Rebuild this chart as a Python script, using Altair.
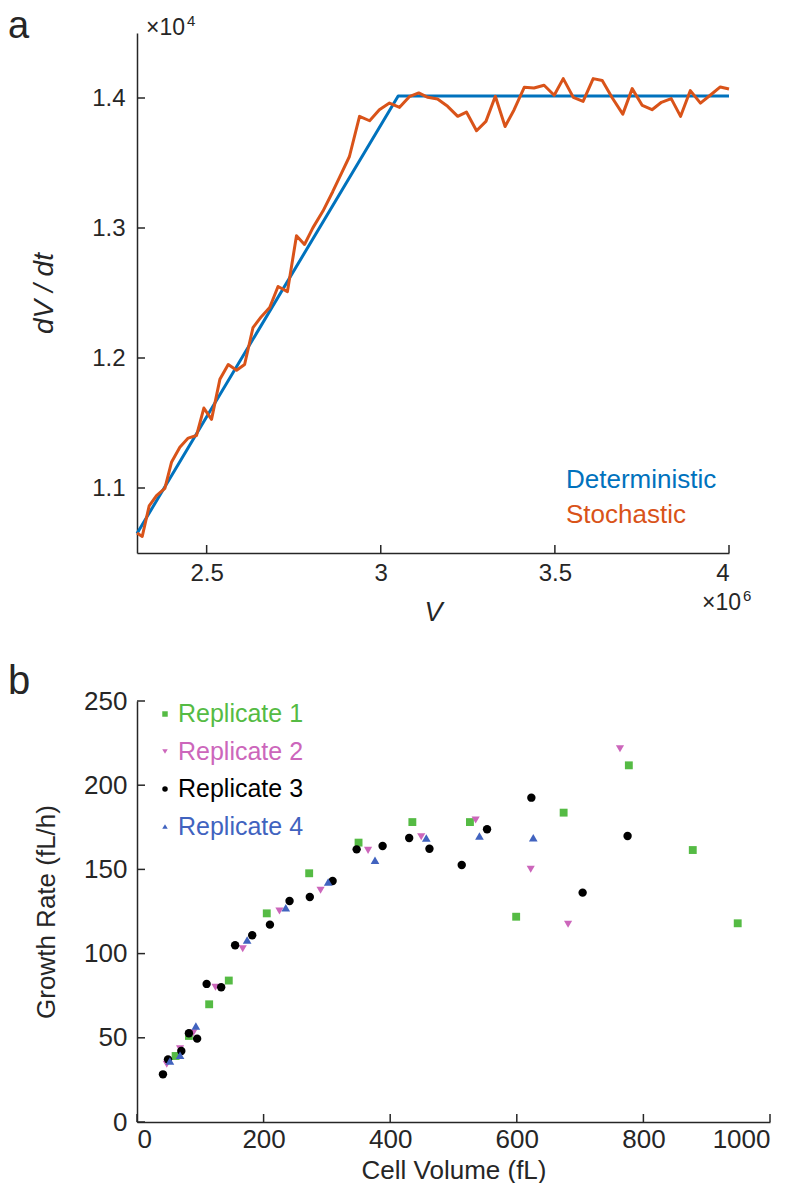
import altair as alt
import pandas as pd

FONT = "Liberation Sans"
INK = "#262626"

# ---------------- panel a data ----------------
det_V = [2.3, 3.05, 4.0]
det_rate = [1.065, 1.4015, 1.4015]

sto_V = [2.300, 2.315, 2.335, 2.356, 2.380, 2.399, 2.423, 2.447, 2.471, 2.492,
         2.514, 2.538, 2.562, 2.586, 2.609, 2.633, 2.657, 2.681, 2.705, 2.732,
         2.758, 2.781, 2.805, 2.834, 2.862, 2.887, 2.910, 2.939, 2.968, 2.996,
         3.025, 3.054, 3.082, 3.109, 3.135, 3.163, 3.192, 3.221, 3.246, 3.275,
         3.302, 3.329, 3.357, 3.383, 3.412, 3.440, 3.469, 3.498, 3.524, 3.553,
         3.581, 3.610, 3.636, 3.665, 3.695, 3.722, 3.751, 3.779, 3.806, 3.834,
         3.861, 3.889, 3.918, 3.946, 3.975, 4.000]
sto_rate = [1.0653, 1.0627, 1.0863, 1.0941, 1.0998, 1.1198, 1.1314, 1.1384, 1.1404, 1.1615,
            1.1528, 1.1836, 1.1950, 1.1906, 1.1950, 1.2233, 1.2318, 1.2388, 1.2550, 1.2511,
            1.2940, 1.2873, 1.3001, 1.3130, 1.3279, 1.3421, 1.3550, 1.3859, 1.3825, 1.3910,
            1.3961, 1.3928, 1.4010, 1.4039, 1.4005, 1.3992, 1.3936, 1.3859, 1.3892, 1.3748,
            1.3820, 1.4013, 1.3781, 1.3910, 1.4082, 1.4077, 1.4098, 1.4021, 1.4149, 1.4005,
            1.3974, 1.4149, 1.4134, 1.4000, 1.3876, 1.4072, 1.3943, 1.3910, 1.3967, 1.3995,
            1.3859, 1.4057, 1.3961, 1.4021, 1.4085, 1.4069]

series_names = ["Deterministic", "Stochastic"]
series_colors = ["#0072BD", "#D95319"]
a_xticks = [2.5, 3.0, 3.5, 4.0]
a_yticks = [1.1, 1.2, 1.3, 1.4]

# ---------------- panel b data ----------------
rep_names = ["Replicate 1", "Replicate 2", "Replicate 3", "Replicate 4"]
rep_colors = ["#55BB44", "#CC66BB", "#000000", "#4163BF"]
rep_shapes = ["square", "triangle-down", "circle", "triangle-up"]
rep_sizes = [62, 75, 58, 75]

rep1_vol = [61, 82, 114, 145, 205, 272, 350, 435, 526, 599, 674, 777, 878, 949]
rep1_gr = [39.2, 51.1, 69.9, 84, 123.9, 147.7, 165.9, 178.1, 178.1, 121.9, 183.7, 211.8, 161.5, 118.0]

rep2_vol = [47, 68, 89, 124, 167, 225, 290, 365, 449, 535, 622, 681, 763]
rep2_gr = [34.3, 43.5, 53.0, 80, 102.9, 125.3, 137.6, 161.3, 169.4, 179.3, 150.1, 117.4, 221.7]

rep3_vol = [41, 49, 70, 82, 95, 110, 133, 155, 182, 210, 241, 273, 309, 347, 388,
            430, 462, 513, 553, 623, 704, 775]
rep3_gr = [28.3, 37.2, 42.2, 52.7, 49.5, 82, 80, 105, 110.9, 117.2, 131.2, 133.6, 143.1,
           161.9, 163.9, 168.6, 162.3, 152.6, 173.8, 192.6, 136.2, 169.8]

rep4_vol = [52, 68, 93, 174, 235, 302, 376, 457, 541, 626]
rep4_gr = [36.2, 39.6, 57.0, 108.1, 127.3, 142.5, 155.4, 168.6, 169.8, 168.8]

b_xticks = [0, 200, 400, 600, 800, 1000]
b_yticks = [0, 50, 100, 150, 200, 250]

# ---------------- layout ----------------
WA, HA = 592, 520
WB, HB = 633, 421
TICK = 8
LEFT = -129


def main_axis(values, fmt, size, tsize, title, lpad, tpad, italic):
    return alt.Axis(values=values, format=fmt, ticks=False, tickSize=0, grid=False,
                    domainColor=INK, domainWidth=1.5, labelFont=FONT, labelFontSize=size,
                    labelColor=INK, labelPadding=lpad, title=title, titleFont=FONT,
                    titleFontSize=tsize, titleFontWeight="normal",
                    titleFontStyle="italic" if italic else "normal", titleColor=INK,
                    titlePadding=tpad)


def inner_ticks(values, field, scale, axis, horizontal, h):
    """Inward-pointing tick marks placed through the panel's own scale."""
    base = alt.Chart(pd.DataFrame({field: values})).mark_rule(color=INK, strokeWidth=1.5)
    if horizontal:
        return base.encode(y=alt.Y(f"{field}:Q", scale=scale, axis=axis),
                           x=alt.value(0), x2=alt.value(TICK))
    return base.encode(x=alt.X(f"{field}:Q", scale=scale, axis=axis),
                       y=alt.value(h - TICK), y2=alt.value(h))


def txt(s, x, y, size, **kw):
    return alt.Chart(pd.DataFrame({"t": [s]})).mark_text(
        font=FONT, fontSize=size, color=INK, align="left", baseline="alphabetic", **kw
    ).encode(x=alt.value(x), y=alt.value(y), text="t:N")


# ---------------- panel a ----------------
df_det = pd.DataFrame({"V": det_V, "rate": det_rate, "series": series_names[0]})
df_sto = pd.DataFrame({"V": sto_V, "rate": sto_rate, "series": series_names[1]})
df_aleg = pd.DataFrame({"series": series_names, "i": [0, 1]})

xa = alt.Scale(domain=[2.3, 4.0], nice=False, zero=False)
ya = alt.Scale(domain=[1.05, 1.45], nice=False, zero=False)
ca = alt.Scale(domain=series_names, range=series_colors)
ax_xa = main_axis(a_xticks, "~g", 24, 27, "V", 8, 14, True)
ax_ya = main_axis(a_yticks, ".1f", 24, 28, "dV / dt", 12, 33, True)

det = alt.Chart(df_det).mark_line(strokeWidth=3, strokeJoin="round").encode(
    x=alt.X("V:Q", scale=xa, axis=ax_xa),
    y=alt.Y("rate:Q", scale=ya, axis=ax_ya),
    color=alt.Color("series:N", scale=ca, legend=None),
)
sto = alt.Chart(df_sto).mark_line(strokeWidth=3, strokeJoin="round").encode(
    x=alt.X("V:Q", scale=xa, axis=ax_xa),
    y=alt.Y("rate:Q", scale=ya, axis=ax_ya),
    color=alt.Color("series:N", scale=ca, legend=None),
)
aleg = alt.Chart(df_aleg).transform_calculate(py="447 + 35 * datum.i").mark_text(
    font=FONT, fontSize=26, align="left", baseline="middle"
).encode(
    x=alt.value(429), y=alt.Y("py:Q", scale=None),
    text="series:N", color=alt.Color("series:N", scale=ca, legend=None),
)

panel_a = alt.layer(
    det, sto,
    inner_ticks(a_xticks, "V", xa, ax_xa, False, HA),
    inner_ticks(a_yticks, "rate", ya, ax_ya, True, HA),
    aleg,
    txt("a", LEFT, 5, 38),
    txt("×10", 9, 2, 23),
    txt("4", 50, -7, 15),
    txt("×10", 565, HA + 57, 23),
    txt("6", 606, HA + 48, 15),
).properties(width=WA, height=HA)

# ---------------- panel b ----------------
df_b = pd.concat([
    pd.DataFrame({"vol": rep1_vol, "gr": rep1_gr, "rep": rep_names[0]}),
    pd.DataFrame({"vol": rep2_vol, "gr": rep2_gr, "rep": rep_names[1]}),
    pd.DataFrame({"vol": rep3_vol, "gr": rep3_gr, "rep": rep_names[2]}),
    pd.DataFrame({"vol": rep4_vol, "gr": rep4_gr, "rep": rep_names[3]}),
], ignore_index=True)
df_bleg = pd.DataFrame({"rep": rep_names, "i": [0, 1, 2, 3]})

xb = alt.Scale(domain=[0, 1000], nice=False, zero=False)
yb = alt.Scale(domain=[0, 250], nice=False, zero=False)
cb = alt.Scale(domain=rep_names, range=rep_colors)
sb = alt.Scale(domain=rep_names, range=rep_shapes)
zb = alt.Scale(domain=rep_names, range=rep_sizes)
ax_xb = main_axis(b_xticks, "d", 26, 26, "Cell Volume (fL)", 4, 5, False)
ax_yb = main_axis(b_yticks, "d", 26, 26, "Growth Rate (fL/h)", 10, 24, False)

pts = alt.Chart(df_b).mark_point(filled=True, opacity=1).encode(
    x=alt.X("vol:Q", scale=xb, axis=ax_xb),
    y=alt.Y("gr:Q", scale=yb, axis=ax_yb),
    color=alt.Color("rep:N", scale=cb, legend=None),
    shape=alt.Shape("rep:N", scale=sb, legend=None),
    size=alt.Size("rep:N", scale=zb, legend=None),
)
bleg_base = alt.Chart(df_bleg).transform_calculate(py="13 + 37.5 * datum.i")
bleg_pts = bleg_base.mark_point(filled=True, opacity=1, size=30).encode(
    x=alt.value(28), y=alt.Y("py:Q", scale=None),
    color=alt.Color("rep:N", scale=cb, legend=None),
    shape=alt.Shape("rep:N", scale=sb, legend=None),
)
bleg_txt = bleg_base.mark_text(font=FONT, fontSize=25, align="left", baseline="middle").encode(
    x=alt.value(41), y=alt.Y("py:Q", scale=None), text="rep:N",
    color=alt.Color("rep:N", scale=cb, legend=None),
)

panel_b = alt.layer(
    pts,
    inner_ticks(b_xticks, "vol", xb, ax_xb, False, HB),
    inner_ticks(b_yticks, "gr", yb, ax_yb, True, HB),
    bleg_pts, bleg_txt,
    txt("b", LEFT, -7, 40),
).properties(width=WB, height=HB)

chart = alt.vconcat(panel_a, panel_b, spacing=37).resolve_scale(
    color="independent", shape="independent", size="independent"
).properties(padding=0, background="white").configure_view(strokeWidth=0, stroke="transparent")

chart.save("out.html", embed_options={"renderer": "svg", "actions": False})
